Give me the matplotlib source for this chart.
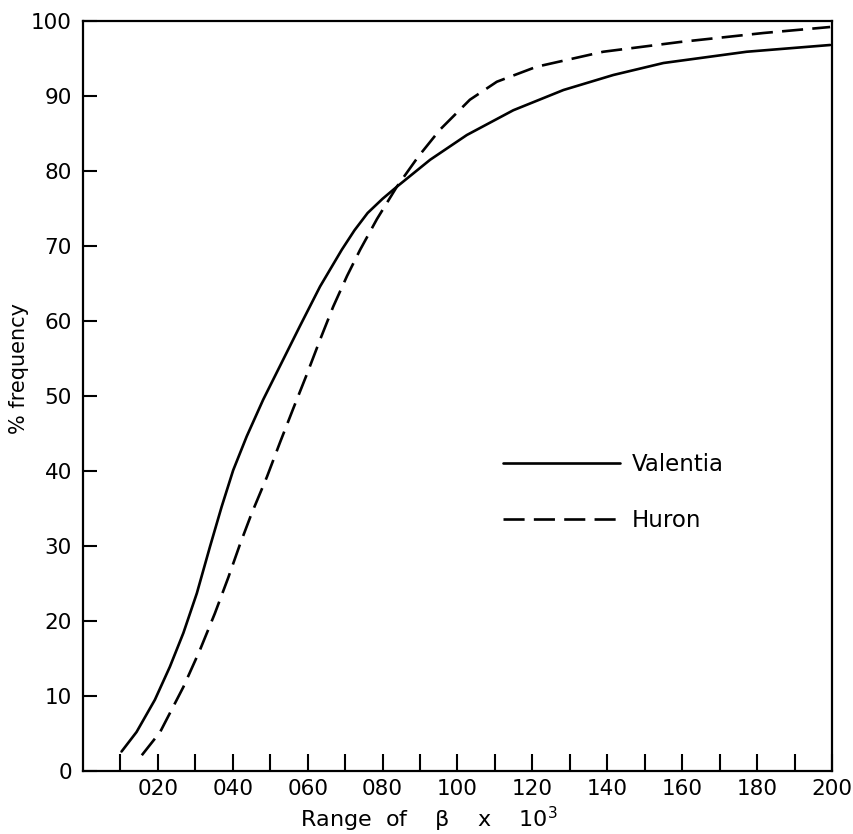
import matplotlib
matplotlib.use("Agg")
import matplotlib.pyplot as plt

# Data
valentia_x = [10.3, 14.3, 19.2, 23.2, 26.8, 30.4, 33.9, 37.0, 40.1, 43.7, 48.1, 52.6,
              57.9, 63.3, 69.1, 72.5, 76, 80, 83.8, 92.7, 102.5, 114.9, 128.3, 141.6,
              155, 177.2, 199.5]
valentia_y = [2.6, 5.2, 9.5, 13.9, 18.4, 23.7, 29.9, 35.2, 40.1, 44.6, 49.5, 54.0,
              59.3, 64.6, 69.5, 72.1, 74.4, 76.3, 77.9, 81.5, 84.8, 88.1, 90.8, 92.8,
              94.4, 95.9, 96.8]

huron_x = [15.7, 20.6, 26.8, 31.2, 35.2, 38.8, 41.9, 45.0, 49.1, 52.6, 56.2, 59.7, 63.3,
           66.8, 70.5, 74, 78.5, 83.8, 89.5, 95.3, 103.3, 110.5, 121.1, 138.9, 159.4,
           181.7, 199.5]
huron_y = [2.1, 5.2, 11.2, 16.1, 21.0, 25.8, 30.2, 34.3, 39.2, 43.8, 48.4, 52.8, 57.5,
           61.9, 66.0, 69.5, 73.6, 77.9, 81.9, 85.5, 89.5, 91.9, 93.9, 95.9, 97.2,
           98.4, 99.2]

x_ticks_major = [20, 40, 60, 80, 100, 120, 140, 160, 180, 200]
x_tick_labels = ["020", "040", "060", "080", "100", "120", "140", "160", "180", "200"]
x_ticks_minor = [10, 30, 50, 70, 90, 110, 130, 150, 170, 190]
y_ticks = [0, 10, 20, 30, 40, 50, 60, 70, 80, 90, 100]
y_tick_labels = ["0", "10", "20", "30", "40", "50", "60", "70", "80", "90", "100"]

fig = plt.figure(figsize=(8.54, 8.34), dpi=100)
ax = fig.add_axes([83/854, 63/834, 749/854, 750/834])

ax.plot(valentia_x, valentia_y, color="black", lw=1.9, label="Valentia",
        solid_joinstyle="round", solid_capstyle="round")
ax.plot(huron_x, huron_y, color="black", lw=1.9, linestyle=(0, (8, 3.5)), label="Huron")

ax.set_xlim(0, 200)
ax.set_ylim(0, 100)

ax.set_xticks(x_ticks_major)
ax.set_xticklabels(x_tick_labels)
ax.set_xticks(x_ticks_minor, minor=True)
ax.set_yticks(y_ticks)
ax.set_yticklabels(y_tick_labels)

ax.tick_params(axis="x", which="both", direction="in", length=12, width=1.5,
               labelsize=15.5, pad=6)
ax.tick_params(axis="y", which="both", direction="in", length=10, width=1.5,
               labelsize=15.5, pad=8)

for s in ax.spines.values():
    s.set_linewidth(1.6)

ax.set_xlabel("Range  of    β    x    10$^{3}$", fontsize=16)
ax.xaxis.set_label_coords(0.462, -0.045)
ax.xaxis.label.set_va("top")
ax.set_ylabel("% frequency", fontsize=15)
ax.yaxis.set_label_coords(-0.072, 0.537)

leg = ax.legend(loc="center left", bbox_to_anchor=(0.561, 0.371), frameon=False,
                fontsize=16.5, handlelength=5.1, labelspacing=1.45, handletextpad=0.5,
                borderpad=0, borderaxespad=0)

fig.savefig("out.png", dpi=100)
